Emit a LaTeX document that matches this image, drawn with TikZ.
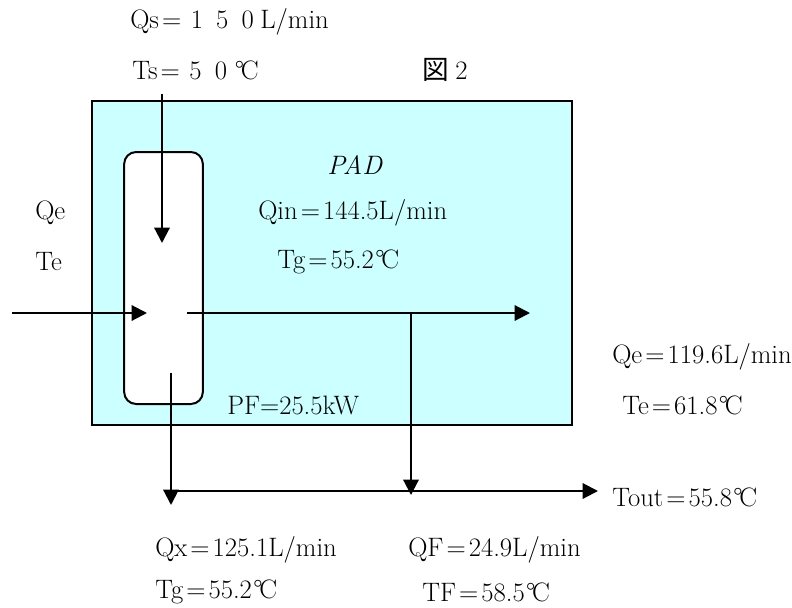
\documentclass[tikz,border=0pt]{standalone}
\usepackage{fontspec}
\newfontfamily\cjk{Noto Sans CJK JP}
\usepackage{tikz}
\usetikzlibrary{arrows.meta,positioning,calc}
\newcommand{\zw}[1]{\makebox[0.95em]{#1}}
\newcommand{\zeq}{\zw{=}}
\newcommand{\degc}{\kern0.05em\textdegree\kern-0.12em C}
\definecolor{padcyan}{RGB}{204,255,255}
\tikzset{
  padbox/.style={
    rectangle, draw=black, fill=padcyan, line width=1.5pt,
    minimum width=360pt, minimum height=243pt, inner sep=0pt
  },
  mixbox/.style={
    rectangle, rounded corners=9pt, draw=black, fill=white, line width=1.5pt,
    minimum width=59pt, minimum height=189pt, inner sep=0pt
  },
  flow/.style={-{Triangle[length=11.5pt,width=11.5pt]},line width=1.6pt},
  val/.style={anchor=west,inner sep=0pt,font=\fontsize{20}{24}\selectfont}
}
\begin{document}
\begin{tikzpicture}[x=0.75pt,y=-0.75pt]
  \useasboundingbox (0,0) rectangle (792,607);
  % boxes
  \node[padbox] (pad) at (332,263) {};
  \node[mixbox] (mix) at (163.5,278) {};
  % connector ends
  \coordinate (ssrc) at (162,94);
  \coordinate (sin) at (162,243);
  \coordinate (esrc) at (12,313);
  \coordinate (ein) at (147,313);
  \coordinate (gout) at (187,313);
  \coordinate (eout) at (530,313);
  \coordinate (fbr) at (411,313);
  \coordinate (fend) at (411,495);
  \coordinate (xsrc) at (171,373);
  \coordinate (xend) at (171,505);
  \coordinate (mixsrc) at (177,491);
  \coordinate (mixend) at (598,491);
  % flows
  \draw[flow] (ssrc) -- (sin);
  \draw[flow] (esrc) -- (ein);
  \draw[flow] (gout) -- (eout);
  \draw[flow] (fbr) -- (fend);
  \draw[flow] (xsrc) -- (xend);
  \draw[flow] (mixsrc) -- (mixend);
  % labels
  \node[val] (qs) at (130,22) {Qs\zeq\zw{1}\zw{5}\zw{0}L/min};
  \node[val] (ts) at (132,70) {Ts\zeq\zw{5}\zw{0}\degc};
  \node[val] (fig) at (422,70) {{\cjk 図}\zw{2}};
  \node[val] (padname) at (327,165) {\textit{PAD}};
  \node[val] (qin) at (258,213) {Qin\zeq144.5L/min};
  \node[val] (tgin) at (277,262) {Tg\zeq55.2\degc};
  \node[val] (qe) at (35,213) {Qe};
  \node[val] (te) at (35,262) {Te};
  \node[val] (qeo) at (612,357) {Qe\zeq119.6L/min};
  \node[val] (teo) at (622,405) {Te\zeq61.8\degc};
  \node[val] (pf) at (227,405) {PF=25.5kW};
  \node[val] (tout) at (612,497) {Tout\zeq55.8\degc};
  \node[val] (qx) at (155,550) {Qx\zeq125.1L/min};
  \node[val] (tg) at (155,592) {Tg\zeq55.2\degc};
  \node[val] (qf) at (408,550) {QF\zeq24.9L/min};
  \node[val] (tf) at (422,592) {TF\zeq58.5\degc};
\end{tikzpicture}
\end{document}
